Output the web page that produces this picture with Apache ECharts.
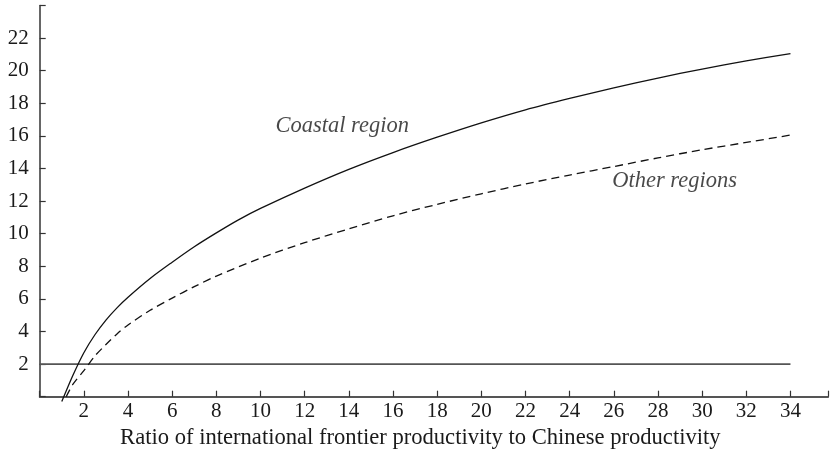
<!DOCTYPE html>
<html>
<head>
<meta charset="utf-8">
<script src="https://cdn.jsdelivr.net/npm/echarts@6/dist/echarts.min.js"></script>
<style>html,body{margin:0;padding:0;background:#fff}#c{width:831px;height:475px}</style>
</head>
<body>
<div id="c"></div>
<script>
var ratioX = [1, 1.5, 2, 2.5, 3, 3.5, 4, 5, 6, 7, 8, 9, 10, 12, 14, 16, 18, 20, 22, 24, 26, 28, 30, 32, 34];
var coastal = [-0.3, 1.3, 2.7, 3.8, 4.7, 5.45, 6.1, 7.25, 8.25, 9.2, 10.05, 10.85, 11.55, 12.8, 13.95, 14.98, 15.92, 16.8, 17.6, 18.3, 18.95, 19.55, 20.1, 20.6, 21.05];
var otherX = [1.2, 1.5, 2, 2.5, 3, 3.5, 4, 5, 6, 7, 8, 10, 12, 14, 16, 18, 20, 22, 24, 26, 28, 30, 32, 34];
var other = [0.0, 0.75, 1.6, 2.5, 3.2, 3.85, 4.4, 5.3, 6.05, 6.75, 7.4, 8.5, 9.45, 10.3, 11.1, 11.8, 12.45, 13.05, 13.6, 14.12, 14.65, 15.15, 15.6, 16.05];
var thresholdX = [0, 34];
var thresholdY = [2, 2];
var labelCoastal = {name: 'Coastal region', x: 13.7, y: 16.6};
var labelOther = {name: 'Other regions', x: 28.75, y: 13.25};
var xTicks = [2,4,6,8,10,12,14,16,18,20,22,24,26,28,30,32,34];
var yTicks = [2,4,6,8,10,12,14,16,18,20,22];

function pairs(xs, ys){ return xs.map(function(x,i){ return [x, ys[i]]; }); }

var font = '"Liberation Serif", "DejaVu Serif", serif';
var chart = echarts.init(document.getElementById('c'));
chart.setOption({
  animation: false,
  backgroundColor: '#fff',
  grid: {left: 39.7, right: 0, top: 5.5, bottom: 78.3, containLabel: false},
  xAxis: [{
    type: 'value', min: 0, max: 35.7, interval: 2,
    axisLine: {onZero: false, lineStyle: {color: '#333', width: 1.5}},
    axisTick: {inside: true, length: 6, lineStyle: {color: '#333', width: 1.2}},
    axisLabel: {margin: 4, fontFamily: font, fontSize: 21, color: '#1a1a1a',
      formatter: function(v){ return xTicks.indexOf(v) >= 0 ? String(v) : ''; }},
    splitLine: {show: false},
    name: 'Ratio of international frontier productivity to Chinese productivity',
    nameLocation: 'middle', nameGap: 30,
    nameTextStyle: {fontFamily: font, fontSize: 22.6, color: '#1a1a1a', padding: [0, 27, 0, 0]}
  }, {
    type: 'value', min: 0, max: 35.7, position: 'top',
    axisLine: {show: true, lineStyle: {color: '#555', width: 1.8}},
    axisTick: {show: false}, axisLabel: {show: false}, splitLine: {show: false}
  }],
  yAxis: {
    type: 'value', min: 0, max: 24, interval: 2,
    axisLine: {show: true, onZero: false, lineStyle: {color: '#333', width: 1.5}},
    axisTick: {inside: true, length: 6, lineStyle: {color: '#333', width: 1.2}},
    axisLabel: {margin: 11, fontFamily: font, fontSize: 21, color: '#1a1a1a',
      formatter: function(v){ return yTicks.indexOf(v) >= 0 ? String(v) : ''; }},
    splitLine: {show: false}
  },
  series: [
    {type: 'line', name: 'threshold', data: pairs(thresholdX, thresholdY), symbol: 'none',
     lineStyle: {color: '#555', width: 1.8}, silent: true},
    {type: 'line', name: 'Coastal region', data: pairs(ratioX, coastal), symbol: 'none',
     smooth: 0.3,
     clip: false, lineStyle: {color: '#111', width: 1.3}},
    {type: 'line', name: 'Other regions', data: pairs(otherX, other), symbol: 'none',
     smooth: 0.3,
     clip: false, lineStyle: {color: '#111', width: 1.3, type: [8, 5]}},
    {type: 'scatter', symbolSize: 0, silent: true,
     data: [[labelCoastal.x, labelCoastal.y, labelCoastal.name], [labelOther.x, labelOther.y, labelOther.name]],
     label: {show: true, position: 'inside', formatter: function(p){ return p.data[2]; },
       fontFamily: font, fontStyle: 'italic', fontSize: 22.5, color: '#1a1a1a'}}
  ]
});
</script>
</body>
</html>
